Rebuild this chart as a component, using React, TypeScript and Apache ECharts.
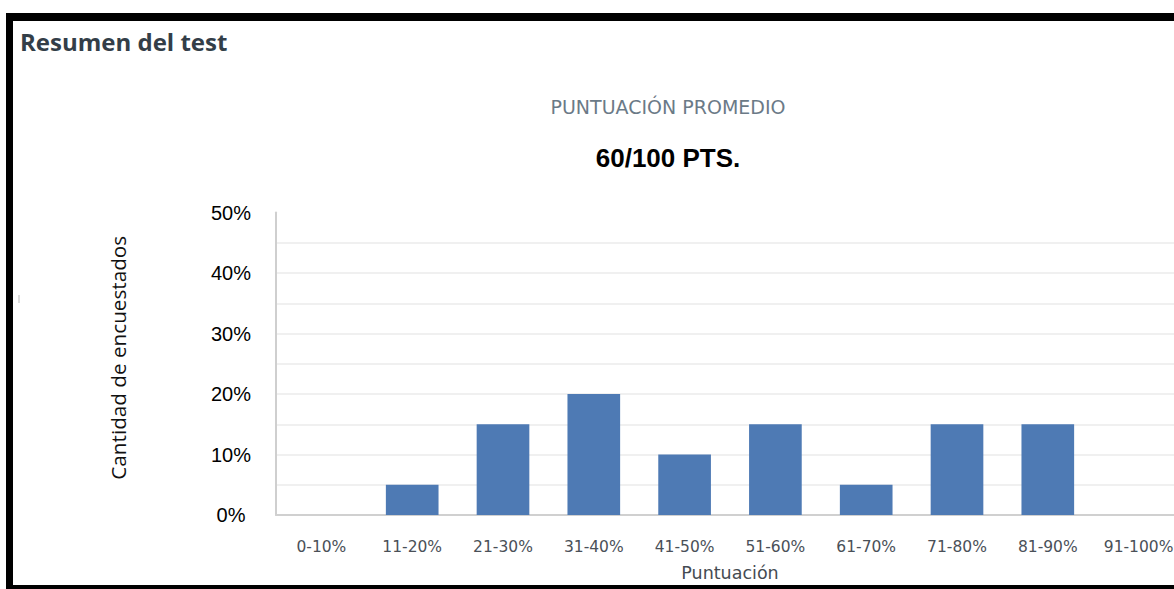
import React, { useEffect, useRef } from "react";
import * as echarts from "echarts";

const categories = ["0-10%", "11-20%", "21-30%", "31-40%", "41-50%", "51-60%", "61-70%", "71-80%", "81-90%", "91-100%"];
const values = [0, 5, 15, 20, 10, 15, 5, 15, 15, 0];
const yTicks = [0, 10, 20, 30, 40, 50];
const headerTitle = "Resumen del test";
const subTitle = "PUNTUACIÓN PROMEDIO";
const scoreText = "60/100 PTS.";
const xName = "Puntuación";
const yName = "Cantidad de encuestados";

export default function App() {
  const ref = useRef<HTMLDivElement>(null);
  useEffect(() => {
    if (!ref.current) return;
    const chart = echarts.init(ref.current, null, { renderer: "svg" });
    const gridColors = Array.from({ length: 11 }, (_, i) => (i === 10 ? "rgba(0,0,0,0)" : "#ebebeb"));
    chart.setOption({
      animation: false,
      backgroundColor: "#ffffff",
      grid: { left: 276, top: 212.5, width: 908, height: 302.5, containLabel: false },
      xAxis: {
        type: "category",
        data: categories,
        axisLine: { lineStyle: { color: "#d0d0d0", width: 2 } },
        axisTick: { show: false },
        axisLabel: { color: "#4a5058", fontFamily: "DejaVu Sans", fontSize: 15.5, margin: 24, interval: 0 },
        name: xName,
        nameLocation: "middle",
        nameGap: 49,
        nameTextStyle: { color: "#454b52", fontFamily: "DejaVu Sans", fontSize: 17.5 },
      },
      yAxis: {
        type: "value",
        min: 0,
        max: 50,
        interval: 5,
        axisLine: { show: true, lineStyle: { color: "#cfcfcf", width: 2 } },
        axisTick: { show: false },
        axisLabel: {
          color: "#000000",
          fontFamily: "Liberation Sans, Arial",
          fontSize: 20,
          align: "center",
          margin: 45,
          formatter: (v: number) => (yTicks.indexOf(v) >= 0 ? v + "%" : ""),
        },
        splitLine: { show: true, lineStyle: { color: gridColors, width: 1.5 } },
        name: yName,
        nameLocation: "middle",
        nameRotate: 90,
        nameGap: 148,
        nameTextStyle: { color: "#111111", fontFamily: "Open Sans", fontSize: 20.7, padding: [0, 0, 0, 12] },
      },
      series: [
        {
          type: "bar",
          data: values,
          barWidth: "58%",
          itemStyle: { color: "#4e7ab4" },
        },
      ],
      graphic: [
        {
          type: "text",
          x: 20,
          y: 41,
          style: { text: headerTitle, fill: "#333e48", font: "bold 24px 'Open Sans'", textVerticalAlign: "middle" },
        },
        {
          type: "text",
          x: 668,
          y: 107,
          style: { text: subTitle, fill: "#6b7a87", font: "19px 'DejaVu Sans'", textAlign: "center", textVerticalAlign: "middle" },
        },
        {
          type: "text",
          x: 668,
          y: 158,
          style: { text: scoreText, fill: "#000000", font: "bold 26px 'Liberation Sans', Arial", textAlign: "center", textVerticalAlign: "middle" },
        },
        { type: "rect", shape: { x: 18, y: 295, width: 2, height: 8 }, style: { fill: "#dddddd" } },
        { type: "rect", shape: { x: 6, y: 13, width: 1194, height: 8 }, style: { fill: "#000000" }, z: 100 },
        { type: "rect", shape: { x: 6, y: 13, width: 7, height: 576 }, style: { fill: "#000000" }, z: 100 },
        { type: "rect", shape: { x: 6, y: 585, width: 1194, height: 4 }, style: { fill: "#000000" }, z: 100 },
      ],
    });
    return () => chart.dispose();
  }, []);
  return <div ref={ref} style={{ position: "fixed", left: 0, top: 0, width: 1200, height: 589 }} />;
}
